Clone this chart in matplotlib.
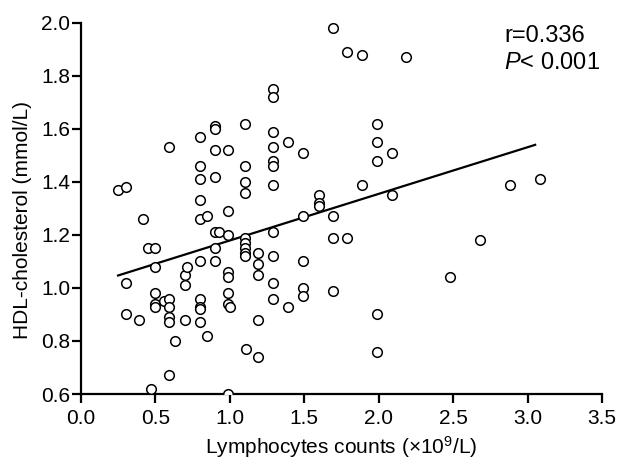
import matplotlib.pyplot as plt
import numpy as np

plt.rcParams['font.family'] = ['Liberation Sans', 'DejaVu Sans']
plt.rcParams['mathtext.fontset'] = 'custom'
plt.rcParams['mathtext.rm'] = 'Liberation Sans'
plt.rcParams['mathtext.it'] = 'Liberation Sans:italic'

# Data
lymph = [0.25,
         0.30, 0.30, 0.30,
         0.39, 0.42, 0.45, 0.47,
         0.50, 0.50, 0.50, 0.50, 0.50,
         0.56,
         0.59, 0.59, 0.59, 0.59, 0.59, 0.59,
         0.63,
         0.70, 0.70, 0.70, 0.71,
         0.80, 0.80, 0.80, 0.80, 0.80, 0.80, 0.80, 0.80, 0.80, 0.80,
         0.85, 0.85,
         0.90, 0.90, 0.90, 0.90, 0.90, 0.90, 0.90,
         0.93,
         0.99, 0.99, 0.99, 0.99, 0.99, 0.99, 0.99, 0.99, 1.00,
         1.10, 1.10, 1.10, 1.10, 1.10, 1.10, 1.10, 1.10, 1.10, 1.11,
         1.19, 1.19, 1.19, 1.19, 1.19,
         1.29, 1.29, 1.29, 1.29, 1.29, 1.29, 1.29, 1.29, 1.29, 1.29, 1.29,
         1.39, 1.39,
         1.49, 1.49, 1.49, 1.49, 1.49,
         1.60, 1.60, 1.60,
         1.69, 1.69, 1.69, 1.69,
         1.79, 1.79,
         1.89, 1.89,
         1.99, 1.99, 1.99, 1.99, 1.99,
         2.09, 2.09,
         2.18, 2.48, 2.68, 2.88, 3.08]
hdl = [1.37,
       1.38, 1.02, 0.90,
       0.88, 1.26, 1.15, 0.62,
       1.15, 1.08, 0.98, 0.94, 0.93,
       0.95,
       1.53, 0.96, 0.93, 0.89, 0.87, 0.67,
       0.80,
       1.05, 1.01, 0.88, 1.08,
       1.57, 1.46, 1.41, 1.33, 1.26, 1.10, 0.96, 0.93, 0.92, 0.87,
       1.27, 0.82,
       1.61, 1.60, 1.52, 1.42, 1.21, 1.15, 1.10,
       1.21,
       1.52, 1.29, 1.20, 1.06, 1.04, 0.98, 0.94, 0.60, 0.93,
       1.62, 1.46, 1.40, 1.36, 1.19, 1.17, 1.15, 1.13, 1.12, 0.77,
       1.13, 1.09, 1.05, 0.88, 0.74,
       1.75, 1.72, 1.59, 1.53, 1.48, 1.46, 1.39, 1.21, 1.12, 1.02, 0.96,
       1.55, 0.93,
       1.51, 1.27, 1.10, 1.00, 0.97,
       1.35, 1.32, 1.31,
       1.98, 1.27, 1.19, 0.99,
       1.89, 1.19,
       1.88, 1.39,
       1.62, 1.55, 1.48, 0.90, 0.76,
       1.51, 1.35,
       1.87, 1.04, 1.18, 1.39, 1.41]

# Regression line as drawn in the reference
fit_slope = 0.176
fit_intercept = 1.003
fit_range = [0.25, 3.05]

fig = plt.figure(figsize=(6.17, 4.66), dpi=100)
ax = fig.add_axes([0.131, 0.1545, 0.845, 0.7965])

ax.scatter(lymph, hdl, s=48, facecolors='white', edgecolors='black',
           linewidths=1.1, zorder=3)

xl = np.array(fit_range)
ax.plot(xl, fit_intercept + fit_slope * xl, color='black', linewidth=1.6, zorder=2)

ax.set_xlim(0, 3.5)
ax.set_ylim(0.6, 2.0)
ax.set_xticks(np.arange(0, 3.51, 0.5))
ax.set_yticks(np.arange(0.6, 2.01, 0.2))
ax.xaxis.set_major_formatter(plt.FormatStrFormatter('%.1f'))
ax.yaxis.set_major_formatter(plt.FormatStrFormatter('%.1f'))

for s in ['top', 'right']:
    ax.spines[s].set_visible(False)
for s in ['left', 'bottom']:
    ax.spines[s].set_linewidth(1.6)
ax.tick_params(direction='out', length=6.5, width=1.6, labelsize=15)
ax.tick_params(axis='y', pad=1)
ax.tick_params(axis='x', pad=4)

ax.set_xlabel('Lymphocytes counts (×10$^{9}$/L)', fontsize=15)
ax.set_ylabel('HDL-cholesterol (mmol/L)', fontsize=15)
ax.xaxis.set_label_coords(0.5, -0.108)
ax.yaxis.set_label_coords(-0.094, 0.47)

ax.text(0.812, 0.965, 'r=0.336', transform=ax.transAxes, fontsize=17,
        ha='left', va='center')
ax.text(0.812, 0.891, '$P$< 0.001', transform=ax.transAxes, fontsize=17,
        ha='left', va='center')

fig.savefig('out.png', dpi=100)
plt.close(fig)
